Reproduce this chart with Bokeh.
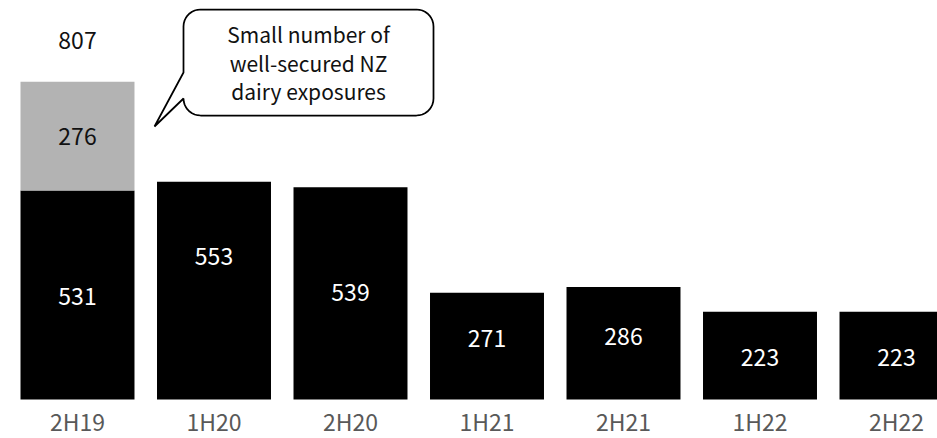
import numpy as np
from bokeh.plotting import figure
from bokeh.models import Range1d
from bokeh.core.properties import value
from bokeh.embed import file_html
from bokeh.resources import INLINE

# ---- data ----
periods = ["2H19", "1H20", "2H20", "1H21", "2H21", "1H22", "2H22"]
core = [531, 553, 539, 271, 286, 223, 223]
dairy = [276, 0, 0, 0, 0, 0, 0]
note = "Small number of\nwell-secured NZ\ndairy exposures"

# label placement (fraction of segment height) - layout only
label_frac = [0.493, 0.657, 0.503, 0.572, 0.559, 0.478, 0.478]
dairy_label_frac = 0.497

FONT = "Noto Sans CJK SC"
W, H = 937, 438
STEP = 136.5            # px per category
X0 = 77                 # px of first category centre
BASE = 399              # px of value 0 (from top)
SY = 0.3936             # px per unit value
XR = (-X0 / STEP, (W - X0) / STEP)
YR = (-(H - BASE) / SY, BASE / SY)

idx = np.arange(len(periods))
core_a = np.array(core, dtype=float)
dairy_a = np.array(dairy, dtype=float)
tot = core_a + dairy_a

p = figure(width=W, height=H, output_backend="svg", toolbar_location=None,
           x_range=Range1d(*XR), y_range=Range1d(*YR),
           min_border_left=0, min_border_right=0, min_border_top=0,
           min_border_bottom=0)
p.outline_line_color = None
p.xgrid.visible = False
p.ygrid.visible = False
p.xaxis.visible = False
p.yaxis.visible = False
p.background_fill_color = "white"
p.border_fill_color = "white"

BW = 0.835
p.vbar(x=idx, top=core_a, bottom=0, width=BW, fill_color="black", line_color=None)
m = dairy_a > 0
p.vbar(x=idx[m], bottom=core_a[m], top=tot[m], width=BW, fill_color="#b3b3b3", line_color=None)

FS = "23px"
p.text(x=idx, y=core_a * np.array(label_frac), text=[str(v) for v in core],
       text_color="white", text_font=value(FONT), text_font_size=FS,
       text_align="center", text_baseline="middle")
p.text(x=idx[m], y=core_a[m] + dairy_a[m] * dairy_label_frac,
       text=[str(int(v)) for v in dairy_a[m]],
       text_color="#111111", text_font=value(FONT), text_font_size=FS,
       text_align="center", text_baseline="middle")
p.text(x=idx[m], y=tot[m], text=[str(int(v)) for v in tot[m]], y_offset=-41,
       text_color="#111111", text_font=value(FONT), text_font_size=FS,
       text_align="center", text_baseline="middle")

# category labels under the bars
p.text(x=idx, y=np.zeros(len(idx)), text=periods, y_offset=21,
       text_color="#595959", text_font=value(FONT), text_font_size=FS,
       text_align="center", text_baseline="middle")

# ---- callout bubble (outline given in screen pixels, converted to data units) ----
def dx(px):
    return XR[0] + px / STEP
def dy(py):
    return (BASE - py) / SY

L, R, T, B, r = 183, 433, 9, 115, 17
pts = []
def arc(cx, cy, a0, a1):
    for a in np.linspace(np.radians(a0), np.radians(a1), 10):
        pts.append((cx + r * np.cos(a), cy + r * np.sin(a)))
arc(R - r, T + r, -90, 0)
arc(R - r, B - r, 0, 90)
arc(L + r, B - r, 90, 180)
pts.append((154, 126))
pts.append((L, 72))
arc(L + r, T + r, 180, 270)
bx = [dx(a) for a, b in pts]
by = [dy(b) for a, b in pts]
p.patch(bx, by, fill_color="white", line_color="black", line_width=1.75)
p.text(x=[dx(308)], y=[dy(62)], text=[note],
       text_color="#111111", text_font=value(FONT), text_font_size="21px",
       text_align="center", text_baseline="middle", text_line_height=0.95)

open("out.html", "w").write(file_html(p, INLINE))
